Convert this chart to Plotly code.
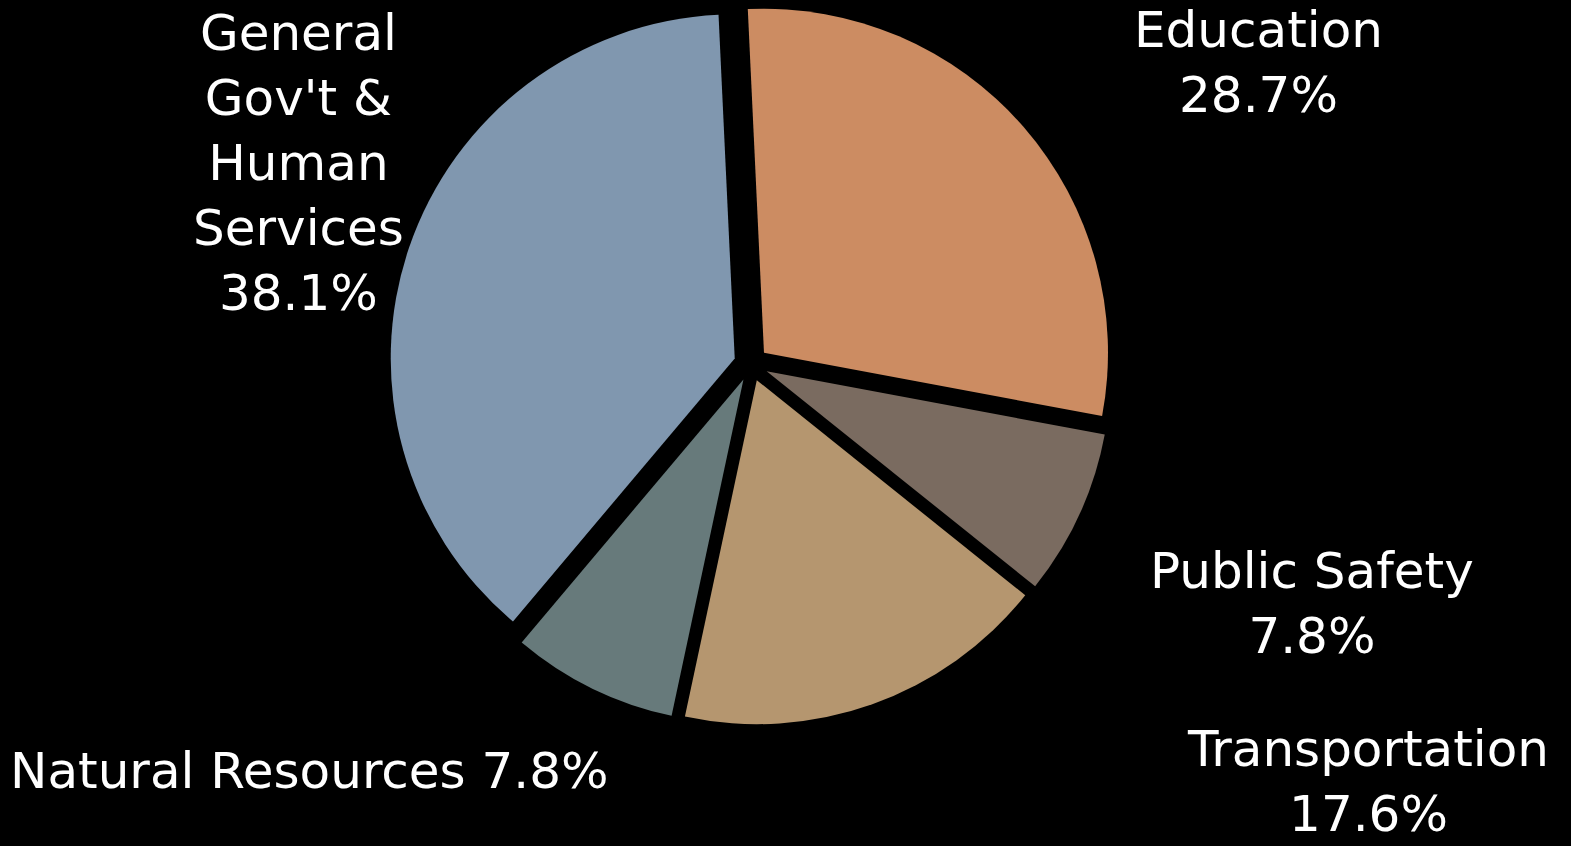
import plotly.graph_objects as go

# Budget shares by function area (percent)
categories = ["Education", "Public Safety", "Transportation",
              "Natural Resources", "General Gov't & Human Services"]
shares = [28.7, 7.8, 17.6, 7.8, 38.1]
colors = ["#CC8C62", "#7A6B60", "#B5966F", "#677A7B", "#8097AF"]

# Display names (line breaks) for the outside labels
display_names = ["Education", "Public Safety", "Transportation",
                 "Natural Resources", "General<br>Gov't &<br>Human<br>Services"]
# Whether the percentage goes on its own line
pct_on_new_line = [True, True, True, False, True]
# Label anchor positions in paper coordinates
label_x = [0.8008, 0.8351, 0.8708, 0.197, 0.1897]
label_y = [0.926, 0.2866, 0.076, 0.0887, 0.807]

FONT = "DejaVu Sans"

fig = go.Figure(
    go.Pie(
        labels=categories,
        values=shares,
        sort=False,
        direction="clockwise",
        rotation=-2.7,
        pull=[0.05] * len(shares),
        marker=dict(colors=colors, line=dict(width=0)),
        textinfo="none",
        hoverinfo="label+percent",
        showlegend=False,
        domain=dict(x=[0.2481, 0.708], y=[0.1428, 0.9967]),
    )
)

annotations = []
for name, val, nl, x, y in zip(display_names, shares, pct_on_new_line, label_x, label_y):
    sep = "<br>" if nl else " "
    annotations.append(dict(
        text=f"{name}{sep}{val:.1f}%",
        x=x, y=y, xref="paper", yref="paper",
        xanchor="center", yanchor="middle",
        showarrow=False, align="center",
        font=dict(family=FONT, size=50, color="white"),
    ))

fig.update_layout(
    width=1571, height=846,
    margin=dict(l=0, r=0, t=0, b=0),
    paper_bgcolor="black",
    plot_bgcolor="black",
    annotations=annotations,
)

fig.write_html("out.html")
